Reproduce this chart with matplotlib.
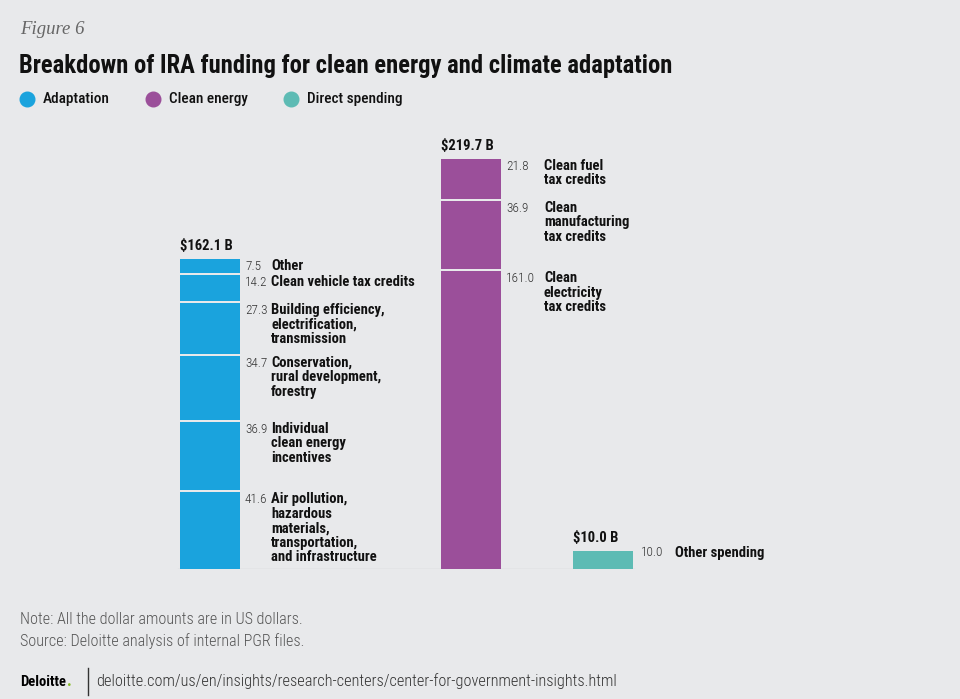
import matplotlib.pyplot as plt
from matplotlib import font_manager
from matplotlib.lines import Line2D

installed = {f.name for f in font_manager.fontManager.ttflist}
SANS = 'Roboto Condensed' if 'Roboto Condensed' in installed else 'Roboto'

# data (US$ billions), stacked bottom -> top
categories = ['Adaptation', 'Clean energy', 'Direct spending']
totals = [162.1, 219.7, 10.0]

adaptation_values = [41.6, 36.9, 34.7, 27.3, 14.2, 7.5]
adaptation_labels = ['Air pollution,\nhazardous\nmaterials,\ntransportation,\nand infrastructure',
                     'Individual\nclean energy\nincentives',
                     'Conservation,\nrural development,\nforestry',
                     'Building efficiency,\nelectrification,\ntransmission',
                     'Clean vehicle tax credits',
                     'Other']

clean_values = [161.0, 36.9, 21.8]
clean_labels = ['Clean\nelectricity\ntax credits',
                'Clean\nmanufacturing\ntax credits',
                'Clean fuel\ntax credits']

direct_values = [10.0]
direct_labels = ['Other spending']

colors = ['#1aa3dd', '#9b4f9a', '#5dbbb4']
BG = '#e8e9eb'

W, H = 960, 699
PX_PER_B = 1.85           # pixels per billion
GAP = 2 / PX_PER_B        # gap between stacked segments
BAR_W = 60
PT = 0.72                 # px -> points at dpi 100


def fx(x):
    return x / W


def fy(y):
    return 1 - y / H


fig = plt.figure(figsize=(9.6, 6.99), dpi=100, facecolor=BG)

# header
fig.text(fx(20), fy(29), 'Figure 6', family='Liberation Serif', style='italic',
         size=13.5, color='#666666', va='center')
fig.text(fx(19), fy(66), 'Breakdown of IRA funding for clean energy and climate adaptation',
         family=SANS, weight='heavy', size=17.7, color='#111111', va='center')

# legend, placed by hand
for name, c, x in zip(categories, colors, [27, 153, 291]):
    fig.add_artist(Line2D([fx(x)], [fy(99)], marker='o', ls='', color=c, markersize=10.5))
    fig.text(fx(x + 16), fy(99), name, family=SANS, weight='medium', size=11,
             color='#111111', va='center')

# bars
ax = fig.add_axes([0, fy(569), 1, (569 - 130) / H])
ax.set_xlim(0, W)
ax.set_ylim(0, 439 / PX_PER_B)
ax.axis('off')
ax.set_facecolor(BG)
ax.axhline(0, xmin=fx(178), xmax=fx(634), color='#cfd0d3', lw=1, zorder=0)

TEXT_KW = dict(family=SANS, linespacing=1.05, ha='left')


def stack(xc, values, labels, color, total, val_dx, lab_dx, dy=0):
    bottom = 0
    right = xc + BAR_W / 2
    for v, lab in zip(values, labels):
        ax.bar(xc, v, width=BAR_W, bottom=bottom, color=color, lw=0)
        top = bottom + v
        ax.annotate(f'{v:.1f}', (right, top), xytext=(val_dx * PT, (dy - 1) * PT),
                    textcoords='offset points', va='top', color='#333333',
                    weight='light', size=9.5, **TEXT_KW)
        ax.annotate(lab, (right, top), xytext=(lab_dx * PT, dy * PT),
                    textcoords='offset points', va='top', color='#111111',
                    weight='bold', size=10.5, **TEXT_KW)
        bottom = top + GAP
    ax.annotate(f'${total:.1f} B', (xc - BAR_W / 2, bottom - GAP),
                xytext=(0, 6 * PT), textcoords='offset points', va='bottom',
                ha='left', family=SANS, weight='bold', size=10.5, color='#111111')


stack(210, adaptation_values, adaptation_labels, colors[0], totals[0], 5, 31)
stack(471, clean_values, clean_labels, colors[1], totals[1], 5, 43)
stack(603, direct_values, direct_labels, colors[2], totals[2], 8, 42, dy=5)

# notes and footer
fig.text(fx(20), fy(619), 'Note: All the dollar amounts are in US dollars.',
         family=SANS, weight='light', size=11.6, color='#555555', va='center')
fig.text(fx(20), fy(641), 'Source: Deloitte analysis of internal PGR files.',
         family=SANS, weight='light', size=11.6, color='#555555', va='center')
logo = fig.text(fx(20), fy(686), 'Deloitte', family=SANS, weight='heavy', size=10.5,
                color='#000000', va='baseline')
fig.canvas.draw()
bb = logo.get_window_extent()
fig.text(bb.x1 / W + fx(0.5), fy(686), '.', family=SANS, weight='heavy', size=12,
         color='#86bc25', va='baseline')
fig.add_artist(Line2D([fx(88), fx(88)], [fy(668), fy(695)], color='#333333', lw=1))
fig.text(fx(96), fy(686),
         'deloitte.com/us/en/insights/research-centers/center-for-government-insights.html',
         family=SANS, weight='light', size=11.7, color='#333333', va='baseline')

fig.savefig('out.png', dpi=100, facecolor=BG)
